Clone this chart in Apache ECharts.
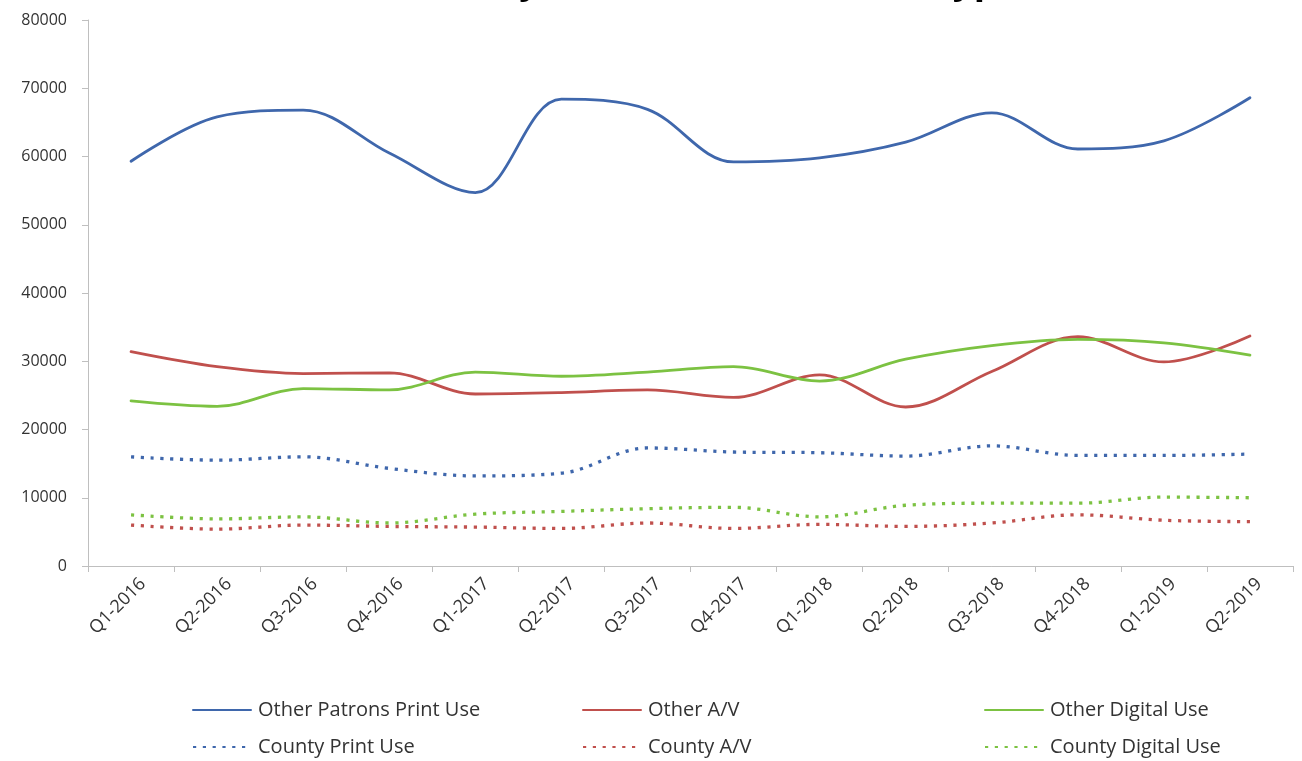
<!DOCTYPE html>
<html>
<head>
<meta charset="utf-8">
<script src="https://cdn.jsdelivr.net/npm/echarts@6/dist/echarts.min.js"></script>
<style>
html,body{margin:0;padding:0;background:#fff;}
#chart{width:1302px;height:761px;}
</style>
</head>
<body>
<div id="chart"></div>
<script>
const categories = ["Q1-2016","Q2-2016","Q3-2016","Q4-2016","Q1-2017","Q2-2017","Q3-2017","Q4-2017","Q1-2018","Q2-2018","Q3-2018","Q4-2018","Q1-2019","Q2-2019"];
const otherPatronsPrint = [59300, 65800, 66800, 60500, 54700, 68400, 66900, 59200, 59800, 62100, 66400, 61100, 62300, 68600];
const otherAV = [31400, 29200, 28200, 28300, 25200, 25400, 25800, 24700, 28000, 23300, 28500, 33600, 29900, 33700];
const otherDigital = [24200, 23400, 26000, 25800, 28400, 27800, 28400, 29200, 27100, 30300, 32300, 33200, 32700, 30900];
const countyPrint = [16000, 15500, 16000, 14300, 13200, 13600, 17300, 16700, 16600, 16100, 17600, 16200, 16200, 16400];
const countyAV = [6000, 5400, 6000, 5800, 5700, 5500, 6300, 5500, 6100, 5800, 6300, 7500, 6700, 6500];
const countyDigital = [7500, 6900, 7200, 6300, 7600, 8000, 8400, 8600, 7200, 8900, 9200, 9200, 10100, 10000];
const seriesNames = ["Other Patrons Print Use","Other A/V","Other Digital Use","County Print Use","County A/V","County Digital Use"];
const titleText = "Circulation by Patron and Material Type";

const BLUE = '#3F67AC', RED = '#C0504D', GREEN = '#7CC242';
const FONT = 'Open Sans';
const dots = [3.2, 6.6];

function mk(name, data, color, dotted) {
  return {
    name, type: 'line', data, smooth: 0.35, symbol: 'none', showSymbol: false,
    lineStyle: dotted ? {color, width: 3.3, type: dots} : {color, width: 2.8, cap: 'round'},
    itemStyle: {color}
  };
}

const legendPos = [
  [187, 695], [577, 695], [979, 695],
  [187, 732], [577, 732], [979, 732]
];

const chart = echarts.init(document.getElementById('chart'), null, {renderer: 'canvas'});
chart.setOption({
  animation: false,
  backgroundColor: '#fff',
  title: {
    text: titleText, left: 'center', top: -41, padding: [5, 5, 5, 56],
    textStyle: {fontFamily: FONT, fontSize: 37, fontWeight: 'bold', color: '#000'}
  },
  grid: [
    {left: 88, right: 9, top: 20, bottom: 195, containLabel: false},
    {left: 100, right: -3, top: 20, bottom: 195, containLabel: false}
  ],
  legend: seriesNames.map((n, i) => ({
    data: [n], left: legendPos[i][0], top: legendPos[i][1],
    itemWidth: 58, itemHeight: 14, itemGap: 0,
    itemStyle: {opacity: 0},
    textStyle: {fontFamily: FONT, fontSize: 20, color: '#333', padding: [0,0,0,2]},
    selectedMode: false
  })),
  xAxis: [{
    type: 'category', data: categories, boundaryGap: true, gridIndex: 0,
    axisLine: {lineStyle: {color: '#BFBFBF', width: 1}},
    axisTick: {show: true, length: 6, lineStyle: {color: '#BFBFBF'}},
    axisLabel: {show: false}
  }, {
    type: 'category', data: categories, boundaryGap: true, gridIndex: 1,
    axisLine: {show: false}, axisTick: {show: false},
    axisLabel: {rotate: 45, fontFamily: FONT, fontSize: 18, color: '#333', margin: 15, interval: 0}
  }],
  yAxis: [{
    type: 'value', min: 0, max: 80000, interval: 10000, gridIndex: 0,
    axisLine: {show: true, lineStyle: {color: '#BFBFBF', width: 1}},
    axisTick: {show: true, length: 6, lineStyle: {color: '#BFBFBF'}},
    splitLine: {show: false},
    axisLabel: {fontFamily: FONT, fontSize: 16, color: '#333', margin: 21, formatter: v => String(v)}
  }, {
    type: 'value', min: 0, max: 80000, interval: 10000, gridIndex: 1, show: false,
    splitLine: {show: false}
  }],
  series: [
    mk(seriesNames[0], otherPatronsPrint, BLUE, false),
    mk(seriesNames[1], otherAV, RED, false),
    mk(seriesNames[2], otherDigital, GREEN, false),
    mk(seriesNames[3], countyPrint, BLUE, true),
    mk(seriesNames[4], countyAV, RED, true),
    mk(seriesNames[5], countyDigital, GREEN, true)
  ]
});
</script>
</body>
</html>
